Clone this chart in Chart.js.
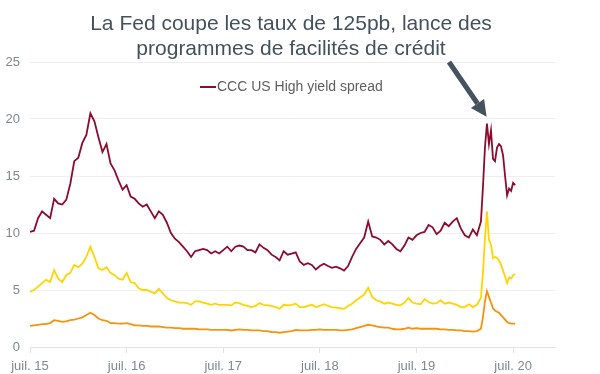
<!DOCTYPE html>
<html>
<head>
<meta charset="utf-8">
<script src="https://cdn.jsdelivr.net/npm/chart.js@4/dist/chart.umd.min.js"></script>
<style>
  body { margin: 0; background: #fff; }
  #wrap { width: 600px; height: 374px; }
</style>
</head>
<body>
<div id="wrap"><canvas id="spreadChart"></canvas></div>
<script>
// months since July 2015: half-month steps, then quarter months around the Covid spike
const months = [];
for (let m = 0; m <= 56; m += 0.5) months.push(m);
for (let m = 56.25; m <= 60.25; m += 0.25) months.push(m);

const cccSpread = [
  10.1,10.2,11.3,11.9,11.6,11.3,13.0,12.6,12.5,12.9,
  14.3,16.3,16.6,17.9,18.6,20.5,19.8,18.4,17.1,17.8,
  16.1,15.5,14.6,13.8,14.2,13.2,13.0,12.6,12.3,12.5,
  11.9,11.3,11.9,11.6,10.9,10.0,9.5,9.2,8.8,8.4,
  7.9,8.4,8.5,8.6,8.5,8.2,8.4,8.2,8.5,8.8,
  8.4,8.8,8.9,8.8,8.5,8.5,8.3,9.0,8.7,8.5,
  8.1,7.9,7.6,8.4,8.1,8.2,8.3,7.5,7.2,7.35,
  7.2,6.8,7.1,7.3,7.1,6.95,7.05,6.9,6.7,7.1,
  7.9,8.6,9.1,9.6,11.0,9.7,9.6,9.4,9.0,9.3,
  9.0,8.6,8.4,8.9,9.6,9.4,9.8,10.0,10.1,10.7,
  10.5,9.9,10.2,10.9,10.6,11.0,11.3,10.4,9.8,9.6,
  10.3,9.8,11.0,
  14.0,17.5,19.6,17.8,19.0,16.5,16.3,17.5,17.8,17.6,16.8,15.0,13.3,13.9,13.7,14.4,14.2
];

const bSpread = [
  4.85,5.0,5.3,5.6,5.9,5.7,6.75,6.0,5.7,6.3,
  6.5,7.2,7.0,7.3,7.9,8.8,7.9,6.9,6.75,7.0,
  6.5,6.3,6.0,5.9,6.5,5.7,5.6,5.15,5.0,5.0,
  4.85,4.7,5.1,4.7,4.3,4.1,4.0,3.9,3.9,3.85,
  3.7,4.0,4.0,3.9,3.8,3.7,3.8,3.7,3.7,3.7,
  3.65,3.9,3.85,3.7,3.6,3.5,3.6,3.85,3.7,3.65,
  3.6,3.5,3.35,3.7,3.65,3.7,3.8,3.5,3.5,3.6,
  3.7,3.5,3.6,3.75,3.6,3.5,3.45,3.4,3.35,3.6,
  3.8,4.1,4.35,4.6,5.2,4.4,4.1,4.0,3.8,3.9,
  3.8,3.7,3.65,3.9,4.3,3.9,3.8,3.75,4.2,3.95,
  3.8,3.85,4.1,3.8,3.9,3.8,3.7,3.5,3.5,3.75,
  3.5,3.7,4.3,
  6.5,9.5,11.9,9.4,9.0,7.8,7.9,7.8,7.6,7.2,6.7,6.2,5.6,6.1,6.0,6.3,6.4
];

const bbSpread = [
  1.85,1.9,1.95,2.0,2.0,2.1,2.35,2.3,2.2,2.25,
  2.35,2.4,2.5,2.6,2.8,3.0,2.8,2.5,2.35,2.3,
  2.1,2.1,2.05,2.05,2.1,2.0,1.9,1.9,1.85,1.85,
  1.8,1.8,1.8,1.75,1.7,1.7,1.65,1.65,1.6,1.6,
  1.6,1.6,1.55,1.55,1.55,1.5,1.5,1.5,1.5,1.5,
  1.45,1.5,1.55,1.5,1.5,1.45,1.45,1.45,1.4,1.4,
  1.3,1.3,1.25,1.3,1.35,1.4,1.5,1.45,1.45,1.45,
  1.5,1.5,1.55,1.5,1.5,1.5,1.5,1.45,1.45,1.5,
  1.55,1.65,1.75,1.85,1.95,1.9,1.8,1.75,1.7,1.7,
  1.6,1.55,1.55,1.6,1.7,1.6,1.65,1.6,1.6,1.6,
  1.6,1.6,1.55,1.55,1.5,1.5,1.45,1.45,1.4,1.4,
  1.35,1.4,1.6,
  2.6,4.0,4.9,4.4,3.9,3.4,3.2,3.1,3.0,2.8,2.6,2.4,2.2,2.1,2.05,2.05,2.05
];

const xTickMonths = [0, 12, 24, 36, 48, 60];
const xTickLabels = ['juil. 15', 'juil. 16', 'juil. 17', 'juil. 18', 'juil. 19', 'juil. 20'];

const titleLines = ['La Fed coupe les taux de 125pb, lance des', 'programmes de facilités de crédit'];
const legendLabel = 'CCC US High yield spread';

const RED = '#8c0b2f';
const YELLOW = '#ffd500';
const ORANGE = '#f5930e';

Chart.defaults.font.family = "'Liberation Sans', Arial, sans-serif";
Chart.defaults.animation = false;

const toPoints = vals => vals.map((v, i) => ({ x: months[i], y: v }));

// title, in-plot legend and the arrow pointing at the March 2020 peak
const annotations = {
    id: 'annotations',
    afterDraw(chart) {
        const ctx = chart.ctx;
        const xs = chart.scales.x, ys = chart.scales.y;
        ctx.save();

        ctx.fillStyle = '#43515d';
        ctx.font = "21px 'Liberation Sans', Arial, sans-serif";
        ctx.textAlign = 'center';
        ctx.textBaseline = 'alphabetic';
        ctx.fillText(titleLines[0], 291, 30);
        ctx.fillText(titleLines[1], 291, 55);

        ctx.strokeStyle = RED;
        ctx.lineWidth = 2;
        ctx.beginPath();
        ctx.moveTo(200, 87);
        ctx.lineTo(216, 87);
        ctx.stroke();
        ctx.fillStyle = '#5e5e5e';
        ctx.font = "14px 'Liberation Sans', Arial, sans-serif";
        ctx.textAlign = 'left';
        ctx.textBaseline = 'middle';
        ctx.fillText(legendLabel, 217, 87);

        const tipX = xs.getPixelForValue(56.7);
        const tipY = ys.getPixelForValue(20.2);
        const startX = 449, startY = 62;
        const ang = Math.atan2(tipY - startY, tipX - startX);
        const headLen = 16, headW = 8;
        const baseX = tipX - headLen * Math.cos(ang);
        const baseY = tipY - headLen * Math.sin(ang);
        ctx.strokeStyle = '#45535f';
        ctx.fillStyle = '#45535f';
        ctx.lineWidth = 5;
        ctx.beginPath();
        ctx.moveTo(startX, startY);
        ctx.lineTo(baseX, baseY);
        ctx.stroke();
        ctx.beginPath();
        ctx.moveTo(tipX, tipY);
        ctx.lineTo(baseX + headW * Math.sin(ang), baseY - headW * Math.cos(ang));
        ctx.lineTo(baseX - headW * Math.sin(ang), baseY + headW * Math.cos(ang));
        ctx.closePath();
        ctx.fill();

        ctx.restore();
    }
};

const ctx = document.getElementById('spreadChart').getContext('2d');
new Chart(ctx, {
    type: 'line',
    data: {
        datasets: [
            { label: 'B', data: toPoints(bSpread), borderColor: YELLOW, borderWidth: 1.8, pointRadius: 0, tension: 0 },
            { label: 'BB', data: toPoints(bbSpread), borderColor: ORANGE, borderWidth: 1.8, pointRadius: 0, tension: 0 },
            { label: legendLabel, data: toPoints(cccSpread), borderColor: RED, borderWidth: 1.8, pointRadius: 0, tension: 0 }
        ]
    },
    options: {
        responsive: true,
        maintainAspectRatio: false,
        layout: { padding: { top: 62, right: 45, bottom: 0, left: 0 } },
        plugins: {
            legend: { display: false },
            tooltip: { enabled: false }
        },
        scales: {
            x: {
                type: 'linear',
                min: 0,
                max: 65.2,
                afterBuildTicks: s => { s.ticks = xTickMonths.map(v => ({ value: v })); },
                afterFit: s => { s.height = 27; },
                ticks: {
                    color: '#7d8893',
                    font: { size: 13 },
                    padding: 6,
                    maxRotation: 0,
                    callback: v => xTickLabels[xTickMonths.indexOf(v)]
                },
                grid: { drawOnChartArea: false, drawTicks: true, tickLength: 6, color: '#e3e3e3' },
                border: { color: '#e3e3e3' }
            },
            y: {
                min: 0,
                max: 25,
                afterFit: s => { s.width = 30; },
                ticks: { stepSize: 5, color: '#7d8893', font: { size: 13 }, padding: 10 },
                grid: { color: '#eeeeee', drawTicks: false },
                border: { display: false }
            }
        }
    },
    plugins: [annotations]
});
</script>
</body>
</html>
